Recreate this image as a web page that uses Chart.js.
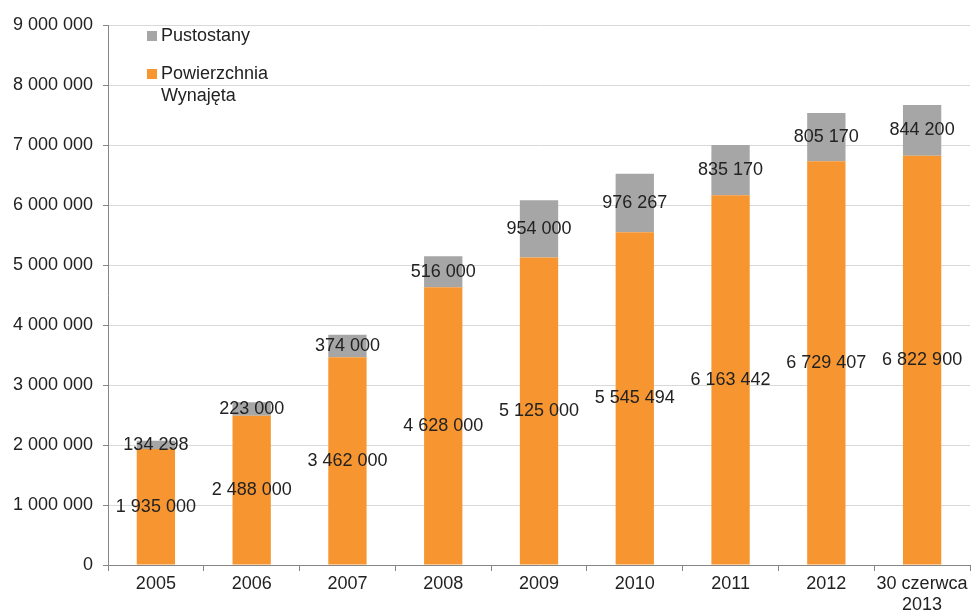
<!DOCTYPE html>
<html>
<head>
<meta charset="utf-8">
<script src="https://cdn.jsdelivr.net/npm/chart.js@4"></script>
<style>
  body { margin: 0; background: #fff; font-family: "Liberation Sans", Arial, sans-serif; }
  #wrap { position: relative; width: 973px; height: 614px; }
  #legend { position: absolute; left: 147px; top: 24px; font-size: 18px; color: #222; line-height: 22px; }
  .item { display: flex; align-items: flex-start; margin-bottom: 16px; }
  .box { width: 10px; height: 10px; margin: 7px 4px 0 0; flex: none; }
</style>
</head>
<body>
<div id="wrap">
  <canvas id="chart" width="973" height="614"></canvas>
  <div id="legend">
    <div class="item"><span class="box" style="background:#A6A6A6"></span><span>Pustostany</span></div>
    <div class="item"><span class="box" style="background:#F79631"></span><span>Powierzchnia<br>Wynajęta</span></div>
  </div>
</div>
<script>
const years = ["2005", "2006", "2007", "2008", "2009", "2010", "2011", "2012", ["30 czerwca", "2013"]];
const rented = [1935000, 2488000, 3462000, 4628000, 5125000, 5545494, 6163442, 6729407, 6822900];
const vacant = [134298, 223000, 374000, 516000, 954000, 976267, 835170, 805170, 844200];
const yTicks = [0, 1000000, 2000000, 3000000, 4000000, 5000000, 6000000, 7000000, 8000000, 9000000];

const FONT = "'Liberation Sans', Arial, sans-serif";

function fmt(v) {
  return String(v).replace(/\B(?=(\d{3})+(?!\d))/g, " ");
}

// values written in the middle of each bar segment
const segmentLabels = {
  id: "segmentLabels",
  afterDatasetsDraw(chart) {
    const ctx = chart.ctx;
    ctx.save();
    ctx.font = "18px " + FONT;
    ctx.fillStyle = "#222";
    ctx.textAlign = "center";
    ctx.textBaseline = "middle";
    chart.data.datasets.forEach((ds, i) => {
      chart.getDatasetMeta(i).data.forEach((bar, j) => {
        const mid = (bar.y + bar.base) / 2;
        ctx.fillText(fmt(ds.data[j]), bar.x, mid);
      });
    });
    ctx.restore();
  }
};

new Chart(document.getElementById("chart"), {
  type: "bar",
  data: {
    labels: years,
    datasets: [
      { label: "Powierzchnia Wynajęta", data: rented, backgroundColor: "#F79631" },
      { label: "Pustostany", data: vacant, backgroundColor: "#A6A6A6" }
    ]
  },
  options: {
    responsive: false,
    animation: false,
    layout: { padding: { top: 25, right: 3 } },
    datasets: { bar: { categoryPercentage: 1, barPercentage: 0.4 } },
    plugins: { legend: { display: false }, tooltip: { enabled: false } },
    scales: {
      x: {
        stacked: true,
        grid: { drawOnChartArea: false, tickLength: 6, color: "#868686" },
        border: { color: "#868686" },
        ticks: {
          color: "#222",
          padding: 2,
          maxRotation: 0,
          minRotation: 0,
          autoSkip: false,
          font: { size: 18, family: FONT }
        },
        afterFit(scale) { scale.height = 49; }
      },
      y: {
        stacked: true,
        min: 0,
        max: 9000000,
        afterBuildTicks(scale) { scale.ticks = yTicks.map(v => ({ value: v })); },
        grid: { color: "#D9D9D9", tickLength: 5, tickColor: "#868686" },
        border: { color: "#868686" },
        ticks: {
          color: "#222",
          padding: 10,
          font: { size: 18, family: FONT },
          callback: v => fmt(v)
        },
        afterFit(scale) { scale.width = 108; }
      }
    }
  },
  plugins: [segmentLabels]
});
</script>
</body>
</html>
